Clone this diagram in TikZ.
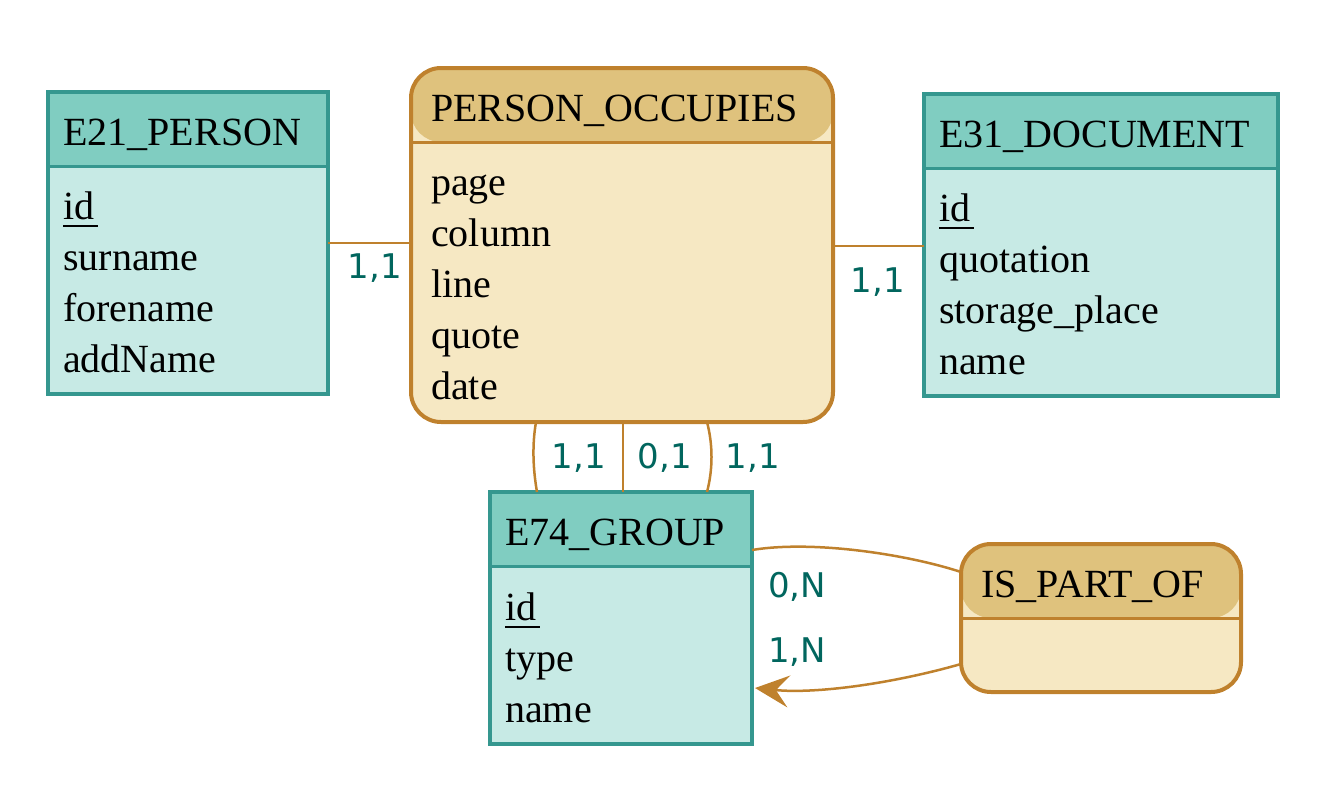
\documentclass[tikz,border=0pt]{standalone}
\usepackage{fontspec}
\setmainfont{Liberation Serif}
\newfontfamily\cardfont{DejaVu Sans}
\usetikzlibrary{arrows.meta}
\definecolor{entHead}{HTML}{80CDC1}
\definecolor{entBody}{HTML}{C7EAE5}
\definecolor{entLine}{HTML}{35978F}
\definecolor{relHead}{HTML}{DFC27D}
\definecolor{relBody}{HTML}{F6E8C3}
\definecolor{relLine}{HTML}{BF812D}
\definecolor{cardCol}{HTML}{01665E}
\tikzset{
  boxbase/.style={inner sep=0pt, outer sep=0pt, anchor=north west, line width=3.5pt},
  entity/.style={boxbase, draw=entLine, fill=entBody,
    path picture={
      \fill[entHead] (path picture bounding box.north west) rectangle ([yshift=-74pt]path picture bounding box.north east);
      \draw[entLine, line width=3pt] ([yshift=-74pt]path picture bounding box.north west) -- ([yshift=-74pt]path picture bounding box.north east);
    }},
  relship/.style={boxbase, line width=4pt, draw=relLine, fill=relBody, rounded corners=30pt,
    path picture={
      \fill[relHead] (path picture bounding box.north west) rectangle ([yshift=-74pt]path picture bounding box.north east);
      \draw[relLine, line width=3pt] ([yshift=-74pt]path picture bounding box.north west) -- ([yshift=-74pt]path picture bounding box.north east);
    }},
  attr/.style={anchor=base west, inner sep=0pt, font=\fontsize{40}{48}\selectfont},
  card/.style={inner sep=0pt, text=cardCol, font=\cardfont\fontsize{34}{40}\selectfont},
  edge/.style={draw=relLine, line width=2.5pt},
  keyline/.style={line width=2.6pt}
}
\begin{document}
\begin{tikzpicture}[x=1pt,y=-1pt]
\useasboundingbox (0,0) rectangle (1332,808);
% boxes
\node[entity, minimum width=280pt, minimum height=302pt] (e21) at (48,92) {};
\node[relship, minimum width=422pt, minimum height=354pt] (po) at (411,68) {};
\node[entity, minimum width=354pt, minimum height=302pt] (e31) at (924,94) {};
\node[entity, minimum width=262pt, minimum height=252pt] (e74) at (490,492) {};
\node[relship, minimum width=280pt, minimum height=148pt] (isp) at (961,544) {};
% E21
\node[attr] (e21t) at (63,145) {E21\_PERSON};
\node[attr] (e21id) at (63,219) {id};
\draw[keyline] ([yshift=-7pt]e21id.base west) -- ([yshift=-7pt,xshift=3pt]e21id.base east);
\node[attr] (e21a) at (63,270) {surname};
\node[attr] (e21b) at (63,321) {forename};
\node[attr] (e21c) at (63,372) {addName};
% PO
\node[attr] (pot) at (431,121) {PERSON\_OCCUPIES};
\node[attr] (poa) at (431,195) {page};
\node[attr] (pob) at (431,246) {column};
\node[attr] (poc) at (431,297) {line};
\node[attr] (pod) at (431,348) {quote};
\node[attr] (poe) at (431,399) {date};
% E31
\node[attr] (e31t) at (939,147) {E31\_DOCUMENT};
\node[attr] (e31id) at (939,221) {id};
\draw[keyline] ([yshift=-7pt]e31id.base west) -- ([yshift=-7pt,xshift=3pt]e31id.base east);
\node[attr] (e31a) at (939,272) {quotation};
\node[attr] (e31b) at (939,323) {storage\_place};
\node[attr] (e31c) at (939,374) {name};
% E74
\node[attr] (e74t) at (505,545) {E74\_GROUP};
\node[attr] (e74id) at (505,620) {id};
\draw[keyline] ([yshift=-7pt]e74id.base west) -- ([yshift=-7pt,xshift=3pt]e74id.base east);
\node[attr] (e74a) at (505,671) {type};
\node[attr] (e74b) at (505,722) {name};
% ISP
\node[attr] (ispt) at (981,597) {IS\_PART\_OF};
% edges
\draw[edge] (e21.east) -- (e21.east -| po.west);
\draw[edge] ([yshift=-1pt]po.east) -- ([yshift=-1pt]po.east -| e31.west);
\draw[edge] ([xshift=1pt]po.south) -- ([xshift=1pt]po.south |- e74.north);
\draw[edge] ([xshift=-86pt]po.south) .. controls +(-4,23) and +(-4,-23) .. ([xshift=-84pt]e74.north);
\draw[edge] ([xshift=85pt]po.south) .. controls +(6,23) and +(6,-23) .. ([xshift=86pt]e74.north);
\draw[edge] ([yshift=-58pt]e74.north east) .. controls +(60,-10) and +(-55,-18) .. ([yshift=46pt]isp.west);
\draw[edge, -{Stealth[length=34pt, width=32pt, inset=13pt]}] ([yshift=-46pt]isp.west) .. controls +(-70,20) and +(60,6) .. ([xshift=3pt,yshift=-70pt]e74.east);
% cardinalities
\node[card] (c1) at (375,268) {1,1};
\node[card] (c2) at (878,282) {1,1};
\node[card] (c3) at (579,458) {1,1};
\node[card] (c4) at (665,458) {0,1};
\node[card] (c5) at (753,458) {1,1};
\node[card] (c6) at (797,587) {0,N};
\node[card] (c7) at (797,652) {1,N};
\end{tikzpicture}
\end{document}
